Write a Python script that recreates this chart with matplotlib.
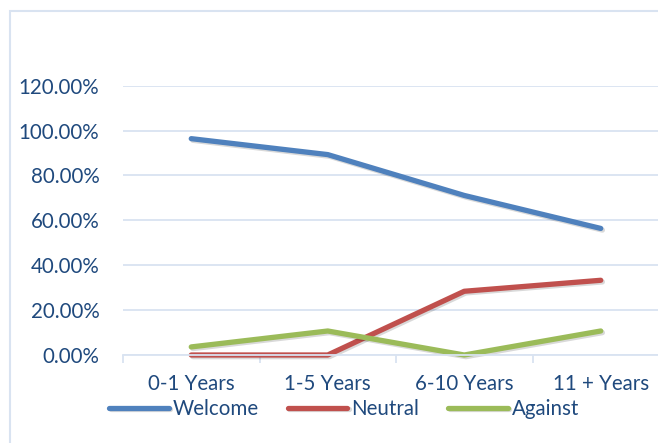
import numpy as np
import matplotlib.pyplot as plt
import matplotlib.patheffects as pe
from matplotlib.patches import Rectangle
from matplotlib.ticker import PercentFormatter

# datos
categorias = ["0-1 Years", "1-5 Years", "6-10 Years", "11 + Years"]
welcome = [0.964, 0.893, 0.711, 0.564]
neutral = [0.0, 0.0, 0.284, 0.333]
against = [0.036, 0.107, 0.0, 0.107]
series = ["Welcome", "Neutral", "Against"]
colores = ["#4F81BD", "#C0504D", "#9BBB59"]

texto = "#1F497D"
rejilla = "#D9E3F1"

plt.rcParams['font.family'] = ['Lato', 'DejaVu Sans']

W, H = 658, 443
fig = plt.figure(figsize=(W / 100, H / 100), dpi=100)

# borde del área del gráfico
fig.patches.append(Rectangle((10 / W, -0.1), 1.2, (H - 11) / H + 0.1,
                             transform=fig.transFigure, fill=False,
                             edgecolor=rejilla, linewidth=1.5))

# área de trazado (se sale por la derecha como en la imagen)
x0, x1 = 123, 669
y0, y1 = 355, 85.7
ax = fig.add_axes([x0 / W, (H - y0) / H, (x1 - x0) / W, (y0 - y1) / H])

x = np.arange(len(categorias))
for nombre, vals, c in zip(series, [welcome, neutral, against], colores):
    ax.plot(x, vals, color=c, linewidth=3.8, solid_capstyle='round',
            solid_joinstyle='round', label=nombre, clip_on=False,
            path_effects=[pe.SimpleLineShadow(offset=(1.2, -1.2), alpha=0.15),
                          pe.Normal()])

ax.set_xlim(-0.5, 3.5)
ax.set_ylim(0, 1.2)
ax.set_yticks(np.arange(0, 1.21, 0.2))
ax.yaxis.set_major_formatter(PercentFormatter(1.0, decimals=2))
ax.grid(axis='y', color=rejilla, linewidth=1.3)
ax.set_axisbelow(True)

ax.set_xticks(x)
ax.set_xticklabels(categorias)
ax.set_xticks(np.arange(-0.5, 4, 1), minor=True)
ax.tick_params(axis='x', which='major', length=0, pad=14, labelsize=14.8, labelcolor=texto)
ax.tick_params(axis='x', which='minor', length=6, color=rejilla, width=1.3, direction='out')
ax.tick_params(axis='y', length=0, pad=17, labelsize=14.8, labelcolor=texto)

for s in ['top', 'right', 'left']:
    ax.spines[s].set_visible(False)
ax.spines['bottom'].set_color(rejilla)
ax.spines['bottom'].set_linewidth(1.3)

# leyenda abajo
fig.legend(loc='center', bbox_to_anchor=(344 / W, (H - 409) / H), ncol=3,
           frameon=False, fontsize=14.8, handlelength=2.9, handletextpad=0.2,
           columnspacing=1.4, labelcolor=texto)

fig.savefig("out.png", dpi=100)
